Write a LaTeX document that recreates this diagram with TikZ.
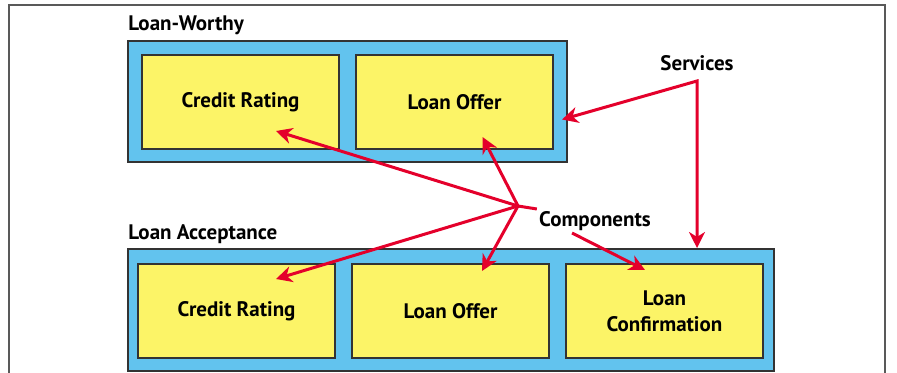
\documentclass[tikz,border=0pt]{standalone}
\usepackage{fontspec}
\setmainfont{PT Sans}
\usetikzlibrary{arrows.meta, positioning}
\definecolor{skyblue}{HTML}{62C3EE}
\definecolor{paleyellow}{HTML}{FCF467}
\definecolor{alertred}{HTML}{E4002B}
\tikzstyle{container} = [rectangle, draw=black!80, line width=1pt, fill=skyblue, inner sep=0pt]
\tikzstyle{component} = [rectangle, minimum width=98.5pt, minimum height=47pt, text centered, align=center, draw=black!80, line width=1pt, fill=paleyellow, font=\bfseries\fontsize{10.5}{13}\selectfont]
\tikzstyle{tag} = [font=\bfseries\fontsize{10.5}{13}\selectfont, inner sep=1pt]
\tikzstyle{arrow} = [alertred, line width=1.5pt, ->]

\begin{document}
\begin{tikzpicture}[x=0.5pt, y=-0.5pt, node distance=7.5pt, >={Stealth[length=8pt,width=8pt,inset=2.5pt]}]
    \useasboundingbox (0,0) rectangle (897,373);
    \draw[black!65, line width=0.75pt] (9,373) -- (9,5) -- (885,5) -- (885,373);

    % the two services
    \node (worthy) [container, minimum width=219.5pt, minimum height=60.5pt] at (347.5,101.5) {};
    \node (accept) [container, minimum width=323pt, minimum height=61pt] at (451,310) {};
    \node (worthytitle) [tag, inner sep=0pt, anchor=base west] at (128,31) {Loan-Worthy};
    \node (accepttitle) [tag, inner sep=0pt, anchor=base west] at (128,240) {Loan Acceptance};

    % their components
    \node (crw) [component] at (240.5,102.5) {Credit Rating};
    \node (low) [component, right=of crw] {Loan Offer};
    \node (cra) [component] at (236.5,311) {Credit Rating};
    \node (loa) [component, right=of cra] {Loan Offer};
    \node (lca) [component, right=of loa] {Loan\\Confirmation};

    \node (services) [tag] at (697,63) {Services};
    \node (components) [tag] at (595,221) {Components};
    \coordinate (svc) at (697,81);
    \coordinate (cmp) at (518,206);

    \draw [arrow, <->] ([shift={(8,17)}]low.east) -- (svc) -- (svc |- accept.north);

    \draw [alertred, line width=1.5pt] (cmp) -- (components.north west);
    \draw [arrow] (cmp) -- ([shift={(35.5,28.5)}]crw.center);
    \draw [arrow] (cmp) -- ([shift={(28,34.5)}]low.center);
    \draw [arrow] (cmp) -- ([shift={(39.5,-32)}]cra.center);
    \draw [arrow] (cmp) -- ([shift={(31.5,-40)}]loa.center);
    \draw [arrow] ([shift={(-23,0)}]components.south) -- ([shift={(-19.5,-41)}]lca.center);
\end{tikzpicture}
\end{document}
